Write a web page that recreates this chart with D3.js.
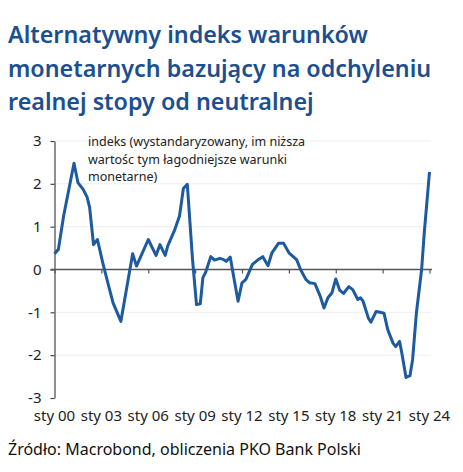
<!DOCTYPE html>
<html>
<head>
<meta charset="utf-8">
<script src="https://cdn.jsdelivr.net/npm/d3@7"></script>
<style>
  body { margin: 0; background: #fff; }
  svg { display: block; font-family: "Noto Sans", sans-serif; }
</style>
</head>
<body>
<div id="chart"></div>
<script>
var width = 463, height = 472;

// chart data
var months = ["2000-01","2000-04","2000-08","2001-04","2001-07","2001-11","2002-02","2002-04",
  "2002-07","2002-10","2003-02","2003-06","2003-10","2004-04","2005-01","2005-04","2006-01",
  "2006-07","2006-10","2007-02","2007-04","2007-09","2008-01","2008-04","2008-07","2008-11",
  "2009-02","2009-05","2009-07","2009-09","2010-01","2010-04","2010-08","2010-11","2011-01",
  "2011-04","2011-07","2011-10","2012-01","2012-04","2012-09","2013-01","2013-05","2013-09",
  "2013-12","2014-05","2014-09","2015-01","2015-07","2015-10","2016-02","2016-05","2016-09",
  "2017-01","2017-04","2017-07","2017-10","2018-01","2018-04","2018-07","2018-11","2019-02",
  "2019-06","2019-08","2019-10","2020-02","2020-04","2020-08","2020-11","2021-02","2021-05",
  "2021-09","2021-11","2022-02","2022-04","2022-07","2022-10","2022-12","2023-03","2023-07",
  "2023-09","2024-01"];
var values = [0.37,0.47,1.25,2.48,2.03,1.87,1.69,1.45,
  0.58,0.70,0.16,-0.31,-0.78,-1.21,0.37,0.08,0.70,
  0.33,0.58,0.33,0.55,0.90,1.25,1.89,1.99,0.23,
  -0.82,-0.80,-0.19,-0.07,0.30,0.22,0.26,0.23,0.19,
  0.29,-0.23,-0.74,-0.31,-0.23,0.12,0.22,0.30,0.09,
  0.39,0.61,0.61,0.39,0.23,0.00,-0.23,-0.31,-0.33,
  -0.62,-0.90,-0.66,-0.55,-0.22,-0.48,-0.56,-0.40,-0.47,
  -0.70,-0.66,-0.74,-1.13,-1.23,-0.98,-1.00,-1.02,-1.41,
  -1.72,-1.80,-1.68,-1.99,-2.52,-2.48,-2.11,-1.01,0.00,
  0.86,2.28];
var yTicks = [3, 2, 1, 0, -1, -2, -3];
var xTickYears = [2000, 2003, 2006, 2009, 2012, 2015, 2018, 2021, 2024];
var titleLines = ["Alternatywny indeks warunków",
  "monetarnych bazujący na odchyleniu",
  "realnej stopy od neutralnej"];
var noteLines = ["indeks (wystandaryzowany, im niższa",
  "wartośc tym łagodniejsze warunki",
  "monetarne)"];
var source = "Źródło: Macrobond, obliczenia PKO Bank Polski";

var parseMonth = d3.timeParse("%Y-%m");
var series = months.map(function(m, i) { return {date: parseMonth(m), value: values[i]}; });

var plot = {left: 54.5, right: 431, top: 141, bottom: 398};

var svg = d3.select("#chart")
  .append("svg")
  .attr("width", width)
  .attr("height", height);

var x = d3.scaleTime()
  .domain([new Date(2000, 0, 1), new Date(2024, 0, 1)])
  .range([plot.left, 429.5]);

var y = d3.scaleLinear()
  .domain([-3, 3])
  .range([plot.bottom, plot.top]);

// title
svg.append("g")
  .selectAll("text")
  .data(titleLines)
  .enter()
  .append("text")
  .attr("x", 8)
  .attr("y", function(d, i) { return 43 + i * 33.5; })
  .attr("fill", "#1b4f91")
  .attr("font-size", 23.3)
  .attr("font-weight", 600)
  .text(function(d) { return d; });

// light gridlines
svg.append("g")
  .selectAll("line")
  .data(yTicks.filter(function(d) { return d !== 0 && d !== -3; }))
  .enter()
  .append("line")
  .attr("x1", plot.left)
  .attr("x2", plot.right)
  .attr("y1", function(d) { return y(d); })
  .attr("y2", function(d) { return y(d); })
  .attr("stroke", "#eeeeee")
  .attr("stroke-width", 1);

// y axis
var yAxis = svg.append("g")
  .attr("transform", "translate(" + plot.left + ",0)")
  .call(d3.axisLeft(y)
    .tickValues(yTicks)
    .tickSize(4)
    .tickSizeOuter(0)
    .tickFormat(function(d) { return String(d); }));
yAxis.select(".domain").attr("stroke", "#444").attr("stroke-width", 1.2);
yAxis.selectAll(".tick line").attr("stroke", "#444").attr("stroke-width", 1.2);
yAxis.selectAll(".tick text")
  .attr("x", -13)
  .attr("font-size", 15)
  .attr("fill", "#222")
  .attr("font-family", "Noto Sans, sans-serif");

// zero line with ticks
var xAxis = svg.append("g")
  .attr("transform", "translate(0," + y(0) + ")")
  .call(d3.axisBottom(x)
    .tickValues(xTickYears.map(function(yr) { return new Date(yr, 0, 1); }))
    .tickSize(4)
    .tickSizeOuter(0)
    .tickFormat(""));
xAxis.select(".domain")
  .attr("d", "M" + (plot.left - 4) + ",0H" + (plot.right + 1))
  .attr("stroke", "#555")
  .attr("stroke-width", 1.3);
xAxis.selectAll(".tick line").attr("stroke", "#555").attr("stroke-width", 1.2);

// bottom labels
svg.append("g")
  .selectAll("text")
  .data(xTickYears)
  .enter()
  .append("text")
  .attr("x", function(d) { return x(new Date(d, 0, 1)); })
  .attr("y", 421)
  .attr("text-anchor", "middle")
  .attr("font-size", 15)
  .attr("fill", "#222")
  .text(function(d) { return "sty " + String(d).slice(2); });

// the series
var line = d3.line()
  .x(function(d) { return x(d.date); })
  .y(function(d) { return y(d.value); });

svg.append("path")
  .datum(series)
  .attr("d", line)
  .attr("fill", "none")
  .attr("stroke", "#1d5aa0")
  .attr("stroke-width", 3)
  .attr("stroke-linejoin", "round");

// note
svg.append("g")
  .selectAll("text")
  .data(noteLines)
  .enter()
  .append("text")
  .attr("x", 88)
  .attr("y", function(d, i) { return 146 + i * 17.5; })
  .attr("font-size", 12.5)
  .attr("fill", "#222")
  .text(function(d) { return d; });

// source
svg.append("text")
  .attr("x", 8)
  .attr("y", 455)
  .attr("font-size", 16)
  .attr("fill", "#111")
  .text(source);
</script>
</body>
</html>
